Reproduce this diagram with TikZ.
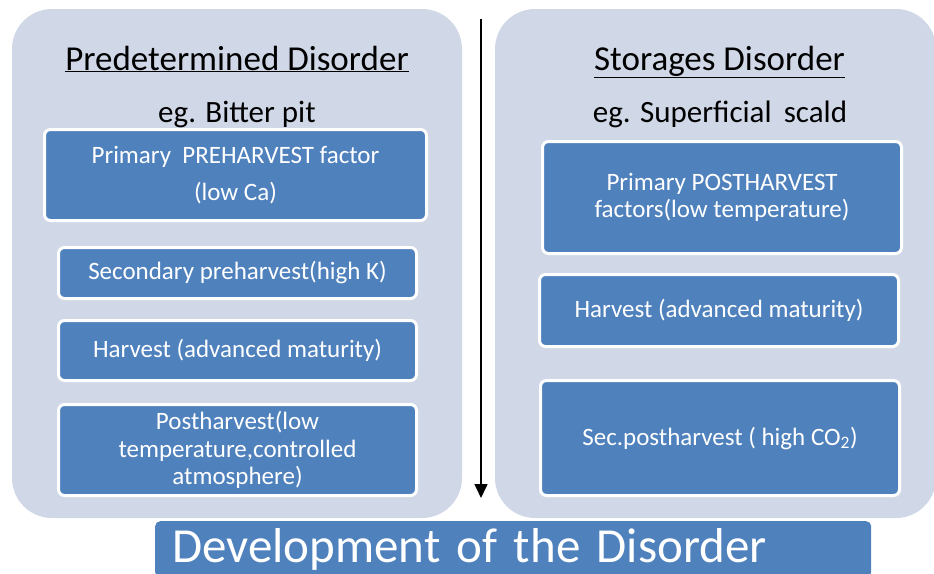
\documentclass[tikz,border=0pt]{standalone}
\usepackage{fontspec}
\setmainfont{Carlito}
\usetikzlibrary{arrows.meta}
\definecolor{panelgray}{HTML}{D0D8E8}
\definecolor{boxblue}{HTML}{4F81BD}

\begin{document}
\begin{tikzpicture}[x=1pt,y=-1pt]
		\tikzstyle{Panel} = [rectangle, rounded corners=40pt, fill=panelgray, draw=none]
		\tikzstyle{Title} = [font=\fontsize{35}{38}\selectfont, text=black, anchor=base]
		\tikzstyle{Example} = [font=\fontsize{31}{34}\selectfont, text=black, anchor=base]
		\tikzstyle{Factor} = [rectangle, minimum width=358pt, rounded corners=6pt, text centered, align=center, draw=white, line width=3pt, fill=boxblue, text=white, inner sep=2pt, font=\fontsize{25}{27.5}\selectfont]
		\tikzstyle{Banner} = [rectangle, rounded corners=5pt, fill=boxblue, text=white, minimum width=716pt, minimum height=56pt, text width=682pt, align=left, inner xsep=17pt, font=\fontsize{49}{52}\selectfont]
		\tikzstyle{arrow} = [line width=1.5pt, -{Triangle[length=14pt,width=13pt]}]
		
		\useasboundingbox (0,0) rectangle (934,573);
		
		% panels
		\node (leftPanel) [Panel, minimum width=450pt, minimum height=509pt] at (237,263.5) {};
		\node (rightPanel) [Panel, minimum width=441pt, minimum height=509pt] at (715.5,263.5) {};
		
		% headings
		\node (leftTitle) [Title] at (237,70) {\underline{Predetermined Disorder}};
		\node (leftExample) [Example] at (237,122) {eg. Bitter pit};
		\node (rightTitle) [Title] at (719.5,70) {\underline{Storages Disorder}};
		\node (rightExample) [Example] at (720,122) {eg. Superficial\, scald};
		
		% predetermined disorder
		\node (preMain) [Factor, minimum width=382pt, minimum height=91pt] at (235.5,175) {Primary\ \ PREHARVEST factor\\[9pt](low Ca)};
		\node (preSec) [Factor, minimum height=51pt] at (237.5,273) {Secondary preharvest(high K)};
		\node (preHarvest) [Factor, minimum height=60pt] at (237.5,350.5) {Harvest (advanced maturity)};
		\node (prePost) [Factor, minimum height=91pt] at (237.5,450) {Postharvest(low\\temperature,controlled\\atmosphere)};
		
		% storage disorder
		\node (stoMain) [Factor, minimum width=359pt, minimum height=112pt] at (722,197.5) {Primary POSTHARVEST\\factors(low temperature)};
		\node (stoHarvest) [Factor, minimum width=359pt, minimum height=72pt] at (719,310.5) {Harvest (advanced maturity)};
		\node (stoSec) [Factor, minimum width=359pt, minimum height=115pt] at (720,438) {Sec.postharvest ( high CO\textsubscript{2})};
		
		% time line
		\coordinate (timeTop) at (481,19);
		\coordinate (timeEnd) at (481,498);
		\draw [arrow] (timeTop) -- (timeEnd);
		
		\node (banner) [Banner, anchor=north west] at (155,521) {Development of the Disorder};
\end{tikzpicture}
\end{document}
